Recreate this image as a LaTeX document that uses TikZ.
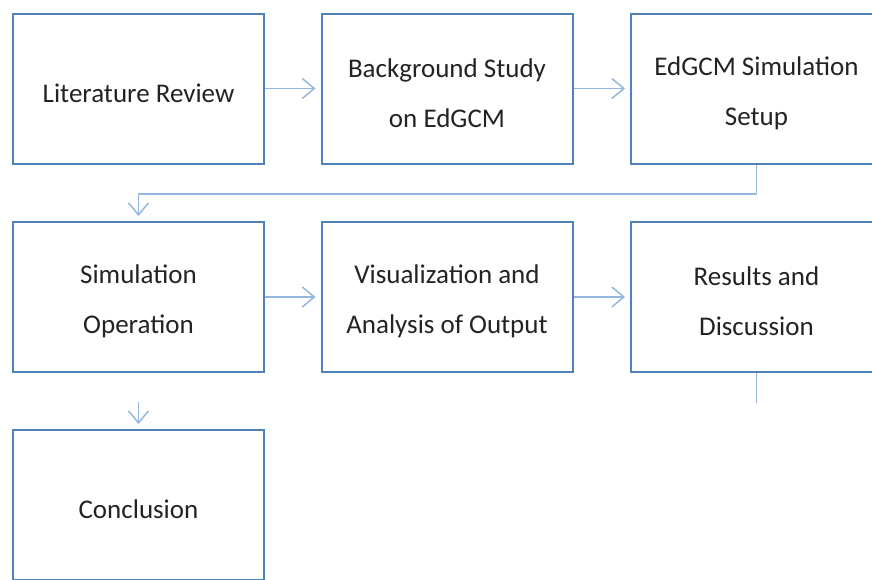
\documentclass[tikz,border=0pt]{standalone}
\usepackage{fontspec}
\setmainfont{Carlito}
\usetikzlibrary{arrows.meta}
\definecolor{boxblue}{RGB}{79,129,189}
\definecolor{lineblue}{RGB}{149,182,223}
\definecolor{textgray}{RGB}{35,35,35}

\begin{document}
\begin{tikzpicture}[x=1pt,y=-1pt,
  stage/.style={rectangle,draw=boxblue,line width=2pt,minimum width=251pt,minimum height=150pt,
    inner sep=0pt,align=center,text=textgray,text height=28pt,font=\fontsize{27}{50}\selectfont},
  twoline/.style={stage,text height=78pt},
  link/.style={draw=lineblue,line width=1.5pt},
  flow/.style={link,-{Straight Barb[length=12pt,width=20pt,line width=1.5pt]},shorten >=5pt}]
\useasboundingbox (0,0) rectangle (872,579);
\clip (0,0) rectangle (872,579);
% first row
\node [stage] (lit) at (138.5,88.5) {Literature Review};
\node [twoline] (bg) at (447,88.5) {Background Study\\on EdGCM};
\node [twoline] (setup) at (756.5,88.5) {EdGCM Simulation\\Setup};
% second row
\node [twoline] (simop) at (138.5,297) {Simulation\\Operation};
\node [twoline] (vis) at (447,297) {Visualization and\\Analysis of Output};
\node [twoline] (results) at (756.5,297) {Results and\\Discussion};
% last row
\node [stage] (concl) at (138.5,505) {Conclusion};
\coordinate (turn) at (138.5,194);
\coordinate (gap) at (138.5,402);
\coordinate (stub) at (756.5,403);
\draw [flow] (lit) -- (bg);
\draw [flow] (bg) -- (setup);
\draw [flow] (setup.south) |- (turn) -- (simop);
\draw [flow] (simop) -- (vis);
\draw [flow] (vis) -- (results);
\draw [flow] (gap) -- (concl);
\draw [link] (results) -- (stub);
\end{tikzpicture}
\end{document}
